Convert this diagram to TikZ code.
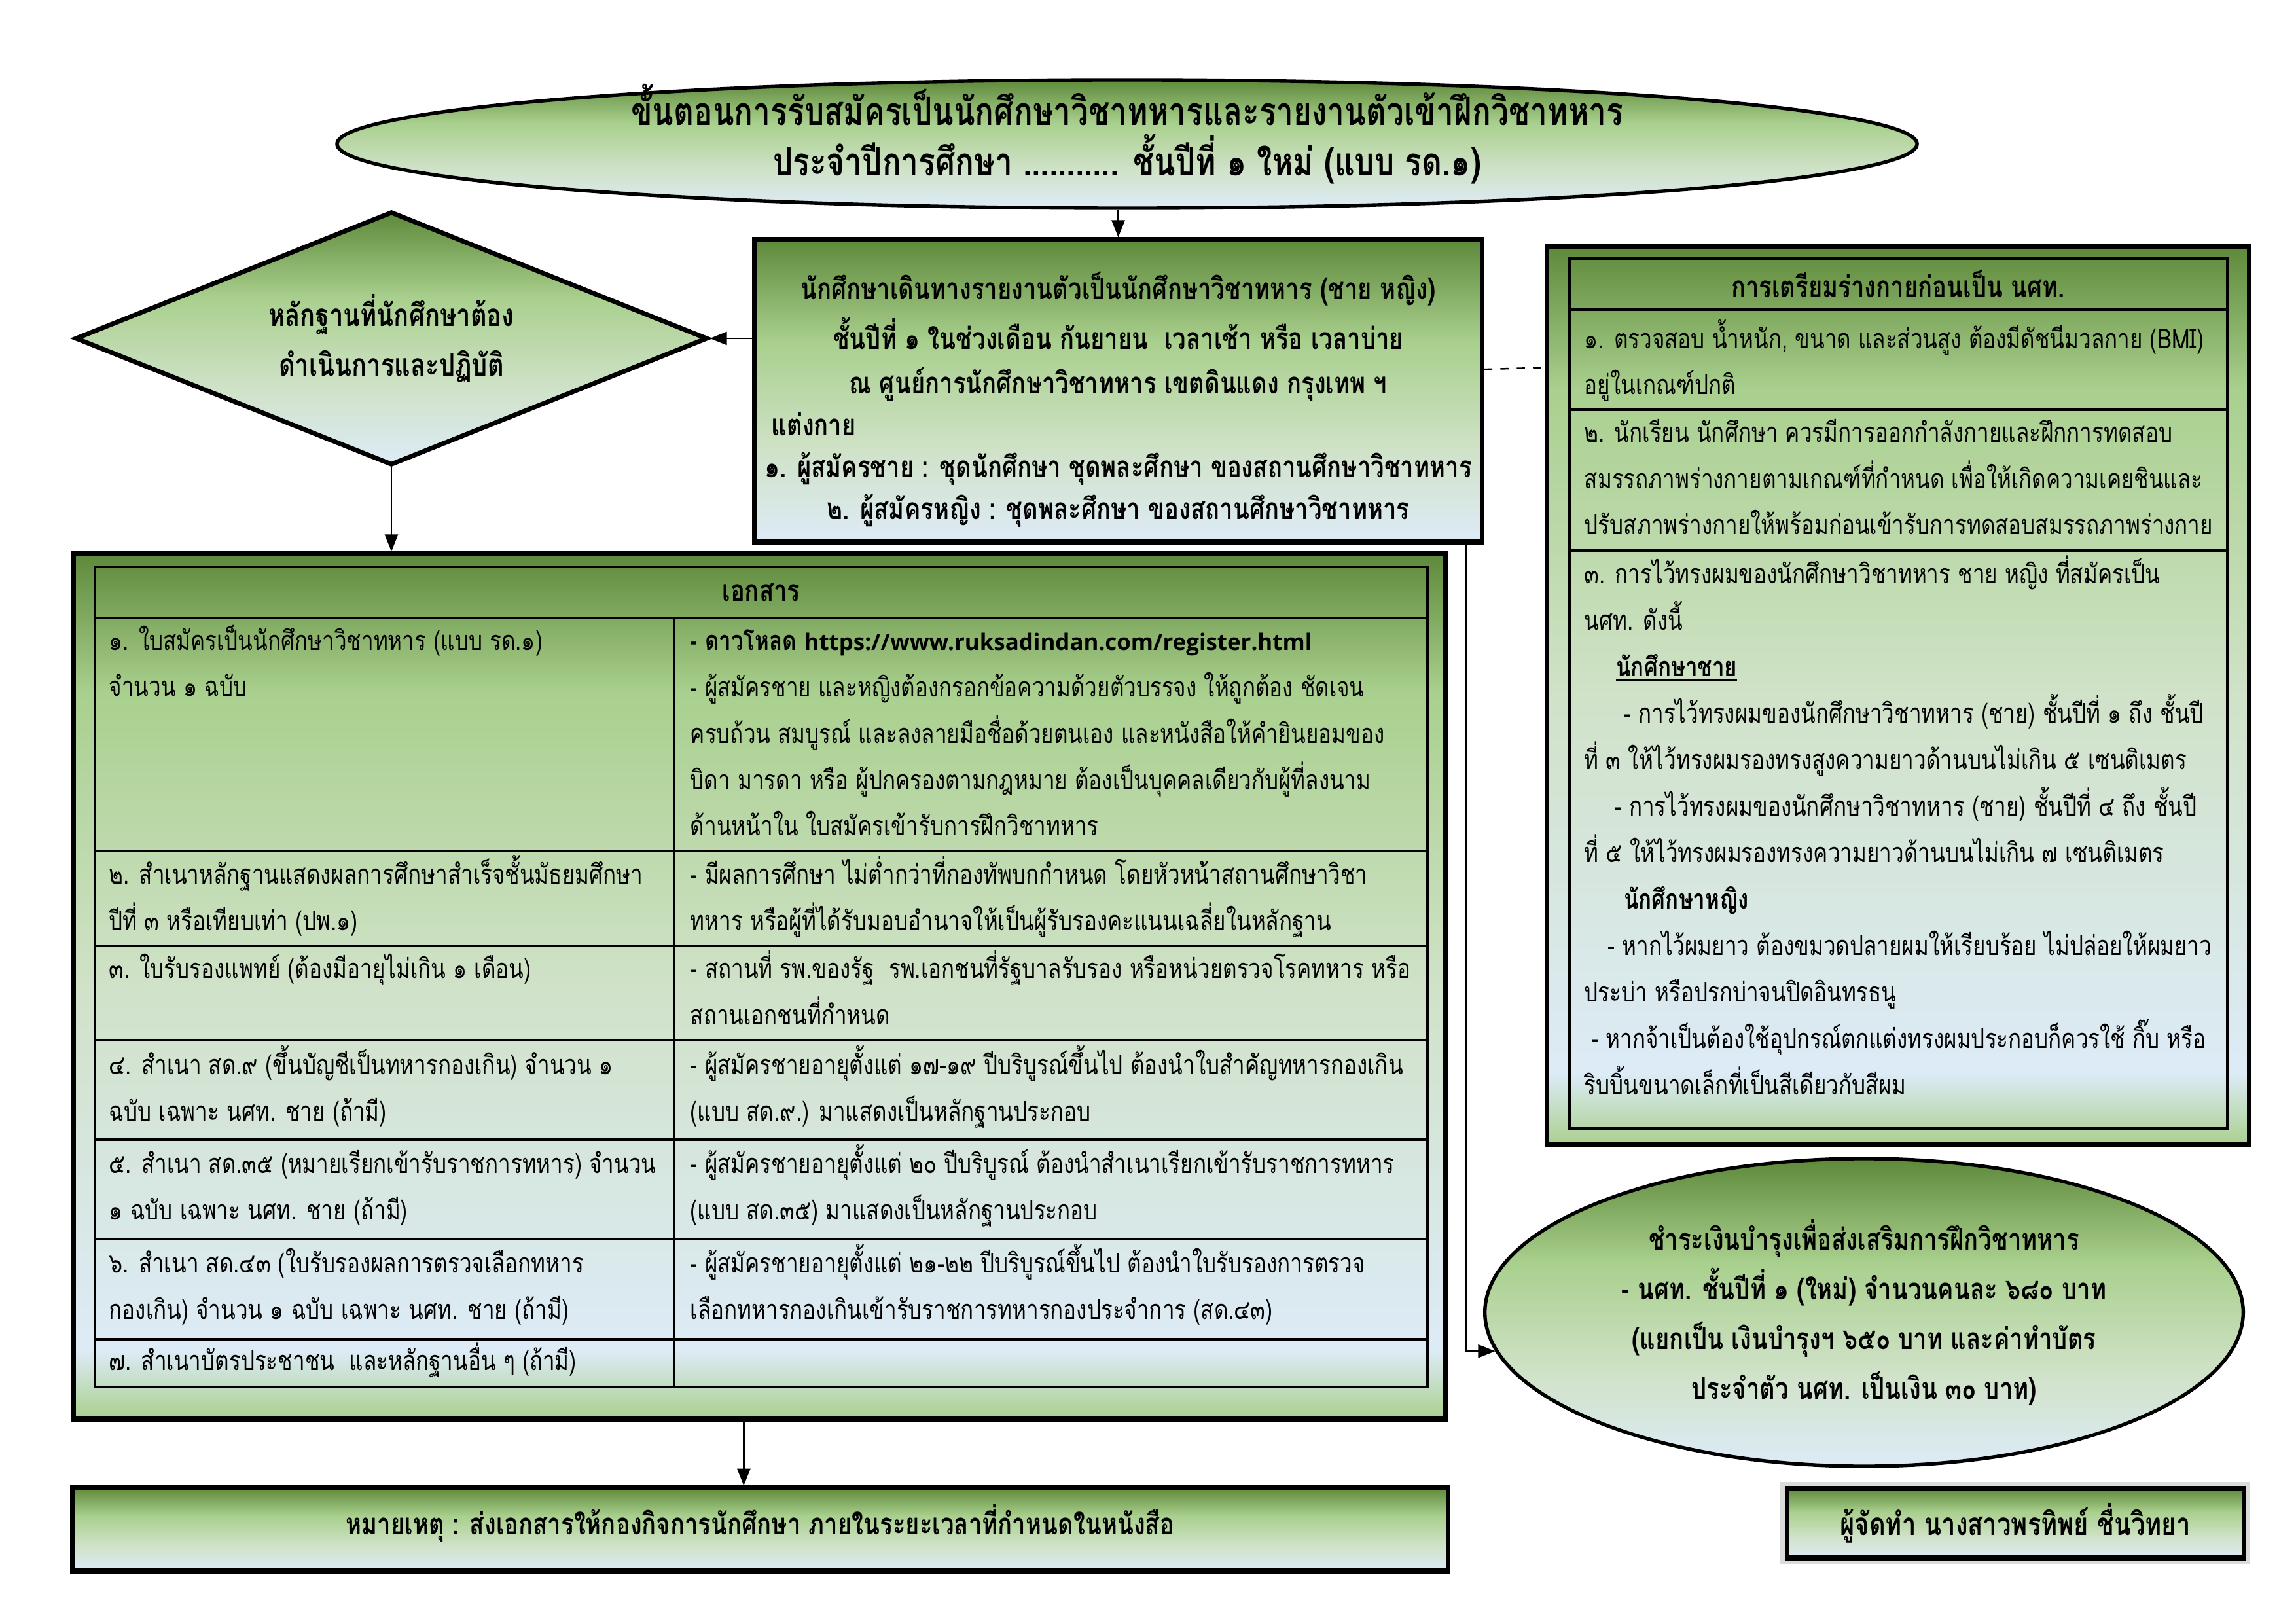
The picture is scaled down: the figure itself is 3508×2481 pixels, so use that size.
\documentclass[tikz,border=0pt]{standalone}
\usepackage{fontspec}
\setmainfont{Loma}[Script=Thai, FakeStretch=0.8]
\newfontfamily\rdurl{Open Sans}
\usepackage{tikz}
\usetikzlibrary{arrows.meta,fit,calc,shapes.geometric,shadows}
\definecolor{rddark}{RGB}{94,137,58}
\definecolor{rdlight}{RGB}{169,208,142}
\definecolor{rdpale}{RGB}{208,226,200}
\definecolor{rdblue}{RGB}{221,235,247}
\pgfdeclareverticalshading{rdgreen}{100bp}{color(0bp)=(rdblue); color(25bp)=(rdblue); color(40bp)=(rdpale); color(58bp)=(rdlight); color(75bp)=(rddark); color(100bp)=(rddark)}
\pgfdeclareverticalshading{rdgreenb}{100bp}{color(0bp)=(rdlight); color(25bp)=(rdlight); color(29bp)=(rdblue); color(50bp)=(rdpale); color(67bp)=(rdlight); color(75bp)=(rddark); color(100bp)=(rddark)}
\newcommand\rdbody{\fontsize{10pt}{17.1pt}\selectfont}
\newcommand\rdhead{\fontsize{11pt}{17pt}\selectfont\bfseries}
\newcommand\rdtitle{\fontsize{14.4pt}{18.5pt}\selectfont\bfseries}
\newcommand\rdmid{\fontsize{11pt}{15.4pt}\selectfont\bfseries}
\newcommand\rdbig{\fontsize{11.5pt}{18.4pt}\selectfont\bfseries}
\tikzset{
  rdbox/.style={
    draw=black, line width=1.7pt, shade, shading=rdgreen, inner sep=0pt
  },
  outerbox/.style={rdbox, shading=rdgreenb},
  oval/.style={rdbox, ellipse, line width=1.3pt},
  grid/.style={draw=black, line width=1pt},
  arr/.style={-{Triangle[length=2.2mm,width=1.7mm]}, draw=black, line width=0.6pt},
  link/.style={draw=black, line width=0.6pt, dashed},
  % base = baseline of the last line
  celltxt/.style={anchor=base west, inner sep=0pt, align=left, font=\rdbody},
  boldtxt/.style={inner sep=0pt, align=center, font=\rdbig}
}
\begin{document}
\begin{tikzpicture}[x=0.084667mm, y=-0.084667mm]
  \useasboundingbox (0,0) rectangle (3508,2481);

  % title oval
  \node[oval, minimum width=204.4mm, minimum height=16.6mm] (title) at (1722,220) {};
  \node[inner sep=0pt, align=center, font=\rdtitle] (titletxt) at ([yshift=1.3mm]title.center)
    {ขั้นตอนการรับสมัครเป็นนักศึกษาวิชาทหารและรายงานตัวเข้าฝึกวิชาทหาร\\
     ประจำปีการศึกษา ........... ชั้นปีที่ ๑ ใหม่ (แบบ รด.๑)};

  % reporting box
  \node[rdbox, fit={(1153,366) (2264,828)}] (mid) {};
  \node[inner sep=0pt, align=center, font=\rdmid] (midtxt) at ([yshift=-1.1mm]mid.center)
    {นักศึกษาเดินทางรายงานตัวเป็นนักศึกษาวิชาทหาร (ชาย หญิง)\\[1.1mm]
     ชั้นปีที่ ๑ ในช่วงเดือน กันยายน \ เวลาเช้า หรือ เวลาบ่าย\\[0.3mm]
     ณ ศูนย์การนักศึกษาวิชาทหาร เขตดินแดง กรุงเทพ ฯ\\
     \makebox[89.7mm][l]{แต่งกาย}\\
     ๑. ผู้สมัครชาย : ชุดนักศึกษา ชุดพละศึกษา ของสถานศึกษาวิชาทหาร\\
     ๒. ผู้สมัครหญิง : ชุดพละศึกษา ของสถานศึกษาวิชาทหาร};

  % evidence diamond
  \node[rdbox, diamond, minimum width=81.8mm, minimum height=32.8mm] (dia) at (598,517) {};
  \node[boldtxt] (diatxt) at (dia.center)
    {หลักฐานที่นักศึกษาต้อง\\ดำเนินการและปฏิบัติ};

  % physical preparation box
  \node[outerbox, fit={(2363,376) (3436,1749)}] (prep) {};
  \draw[grid] (2398,395) rectangle (3403,1724);
  \foreach \ry in {473,626,841}
    \draw[grid] (2398,\ry) -- (3403,\ry);
  \node[inner sep=0pt, font=\rdhead] (prephead) at (2900,434) {การเตรียมร่างกายก่อนเป็น นศท.};
  \node[celltxt] (prep1) at (2420,603)
    {๑. ตรวจสอบ น้ำหนัก, ขนาด และส่วนสูง ต้องมีดัชนีมวลกาย (BMI)\\
     อยู่ในเกณฑ์ปกติ};
  \node[celltxt] (prep2) at (2420,817)
    {๒. นักเรียน นักศึกษา ควรมีการออกกำลังกายและฝึกการทดสอบ\\
     สมรรถภาพร่างกายตามเกณฑ์ที่กำหนด เพื่อให้เกิดความเคยชินและ\\
     ปรับสภาพร่างกายให้พร้อมก่อนเข้ารับการทดสอบสมรรถภาพร่างกาย};
  \node[celltxt] (prep3) at (2420,1672)
    {๓. การไว้ทรงผมของนักศึกษาวิชาทหาร ชาย หญิง ที่สมัครเป็น\\
     นศท. ดังนี้\\
     \hspace*{4.1mm}\underline{\textbf{นักศึกษาชาย}}\\
     \hspace*{5.1mm}- การไว้ทรงผมของนักศึกษาวิชาทหาร (ชาย) ชั้นปีที่ ๑ ถึง ชั้นปี\\
     ที่ ๓ ให้ไว้ทรงผมรองทรงสูงความยาวด้านบนไม่เกิน ๕ เซนติเมตร\\
     \hspace*{3.9mm}- การไว้ทรงผมของนักศึกษาวิชาทหาร (ชาย) ชั้นปีที่ ๔ ถึง ชั้นปี\\
     ที่ ๕ ให้ไว้ทรงผมรองทรงความยาวด้านบนไม่เกิน ๗ เซนติเมตร\\
     \hspace*{5.1mm}\underline{\textbf{นักศึกษาหญิง}}\\
     \hspace*{3mm}- หากไว้ผมยาว ต้องขมวดปลายผมให้เรียบร้อย ไม่ปล่อยให้ผมยาว\\
     ประบ่า หรือปรกบ่าจนปิดอินทรธนู\\
     \hspace*{0.9mm}- หากจ้าเป็นต้องใช้อุปกรณ์ตกแต่งทรงผมประกอบก็ควรใช้ กิ๊บ หรือ\\
     ริบบิ้นขนาดเล็กที่เป็นสีเดียวกับสีผม};

  % documents table
  \node[outerbox, fit={(112,846) (2208,2168)}] (docs) {};
  \draw[grid] (145,866) rectangle (2181,2119);
  \foreach \ry in {944,1300,1445,1589,1741,1893,2046}
    \draw[grid] (145,\ry) -- (2181,\ry);
  \draw[grid] (1030,944) -- (1030,2119);
  \node[inner sep=0pt, font=\rdhead] (docshead) at (1163,905) {เอกสาร};
  \node[celltxt] (docl1) at (166,1064)
    {๑. ใบสมัครเป็นนักศึกษาวิชาทหาร (แบบ รด.๑)\\จำนวน ๑ ฉบับ};
  \node[celltxt] (docr1) at (1054,1277)
    {\textbf{- ดาวโหลด {\rdurl\fontsize{8.4pt}{17.1pt}\selectfont https://www.ruksadindan.com/register.html}}\\
     - ผู้สมัครชาย และหญิงต้องกรอกข้อความด้วยตัวบรรจง ให้ถูกต้อง ชัดเจน\\
     ครบถ้วน สมบูรณ์ และลงลายมือชื่อด้วยตนเอง และหนังสือให้คำยินยอมของ\\
     บิดา มารดา หรือ ผู้ปกครองตามกฎหมาย ต้องเป็นบุคคลเดียวกับผู้ที่ลงนาม\\
     ด้านหน้าใน ใบสมัครเข้ารับการฝึกวิชาทหาร};
  \node[celltxt] (docl2) at (166,1421)
    {๒. สำเนาหลักฐานแสดงผลการศึกษาสำเร็จชั้นมัธยมศึกษา\\ปีที่ ๓ หรือเทียบเท่า (ปพ.๑)};
  \node[celltxt] (docr2) at (1054,1421)
    {- มีผลการศึกษา ไม่ต่ำกว่าที่กองทัพบกกำหนด โดยหัวหน้าสถานศึกษาวิชา\\
     ทหาร หรือผู้ที่ได้รับมอบอำนาจให้เป็นผู้รับรองคะแนนเฉลี่ยในหลักฐาน};
  \node[celltxt] (docl3) at (166,1494)
    {๓. ใบรับรองแพทย์ (ต้องมีอายุไม่เกิน ๑ เดือน)};
  \node[celltxt] (docr3) at (1054,1565)
    {- สถานที่ รพ.ของรัฐ \ รพ.เอกชนที่รัฐบาลรับรอง หรือหน่วยตรวจโรคทหาร หรือ\\
     สถานเอกชนที่กำหนด};
  \node[celltxt] (docl4) at (166,1712)
    {๔. สำเนา สด.๙ (ขึ้นบัญชีเป็นทหารกองเกิน) จำนวน ๑\\ฉบับ เฉพาะ นศท. ชาย (ถ้ามี)};
  \node[celltxt] (docr4) at (1054,1712)
    {- ผู้สมัครชายอายุตั้งแต่ ๑๗-๑๙ ปีบริบูรณ์ขึ้นไป ต้องนำใบสำคัญทหารกองเกิน\\
     (แบบ สด.๙.) มาแสดงเป็นหลักฐานประกอบ};
  \node[celltxt] (docl5) at (166,1863)
    {๕. สำเนา สด.๓๕ (หมายเรียกเข้ารับราชการทหาร) จำนวน\\๑ ฉบับ เฉพาะ นศท. ชาย (ถ้ามี)};
  \node[celltxt] (docr5) at (1054,1863)
    {- ผู้สมัครชายอายุตั้งแต่ ๒๐ ปีบริบูรณ์ ต้องนำสำเนาเรียกเข้ารับราชการทหาร\\
     (แบบ สด.๓๕) มาแสดงเป็นหลักฐานประกอบ};
  \node[celltxt] (docl6) at (166,2015)
    {๖. สำเนา สด.๔๓ (ใบรับรองผลการตรวจเลือกทหาร\\กองเกิน) จำนวน ๑ ฉบับ เฉพาะ นศท. ชาย (ถ้ามี)};
  \node[celltxt] (docr6) at (1054,2015)
    {- ผู้สมัครชายอายุตั้งแต่ ๒๑-๒๒ ปีบริบูรณ์ขึ้นไป ต้องนำใบรับรองการตรวจ\\
     เลือกทหารกองเกินเข้ารับราชการทหารกองประจำการ (สด.๔๓)};
  \node[celltxt] (docl7) at (166,2093)
    {๗. สำเนาบัตรประชาชน \ และหลักฐานอื่น ๆ (ถ้ามี)};

  % fee oval
  \node[oval, minimum width=98.1mm, minimum height=39.8mm] (fee) at (2848,2005) {};
  \node[inner sep=0pt, align=center, font=\fontsize{11pt}{18.3pt}\selectfont\bfseries] (feetxt) at (fee.center)
    {ชำระเงินบำรุงเพื่อส่งเสริมการฝึกวิชาทหาร\\
     - นศท. ชั้นปีที่ ๑ (ใหม่) จำนวนคนละ ๖๘๐ บาท\\
     (แยกเป็น เงินบำรุงฯ ๖๕๐ บาท และค่าทำบัตร\\
     ประจำตัว นศท. เป็นเงิน ๓๐ บาท)};

  % note and maker
  \node[rdbox, fit={(111,2273) (2212,2400)}] (note) {};
  \node[inner sep=0pt, font=\rdhead] (notetxt) at ([yshift=0.8mm]note.center)
    {หมายเหตุ : ส่งเอกสารให้กองกิจการนักศึกษา ภายในระยะเวลาที่กำหนดในหนังสือ};
  \node[rdbox, fit={(2730,2274) (3428,2380)},
        general shadow={draw=black!14, line width=5pt, fill=black!14}] (maker) {};
  \node[inner sep=0pt, font=\fontsize{11.5pt}{17pt}\selectfont\bfseries] (makertxt) at (maker.center)
    {ผู้จัดทำ นางสาวพรทิพย์ ชื่นวิทยา};

  % connectors
  \draw[arr] (mid.north |- title.south) -- (mid.north);
  \draw[arr] (dia.east -| mid.west) -- (dia.east);
  \draw[arr] (dia.south) -- (dia.south |- docs.north);
  \draw[link] ($(mid.north east)!0.43!(mid.south east)$) -- ($(prep.north west)!0.137!(prep.south west)$);
  \draw[arr] ($(mid.south west)!0.975!(mid.south east)$) |- (fee.186);
  \draw[arr] ([xshift=-2mm]docs.south) -- ([xshift=-2mm]docs.south |- note.north);
\end{tikzpicture}
\end{document}
